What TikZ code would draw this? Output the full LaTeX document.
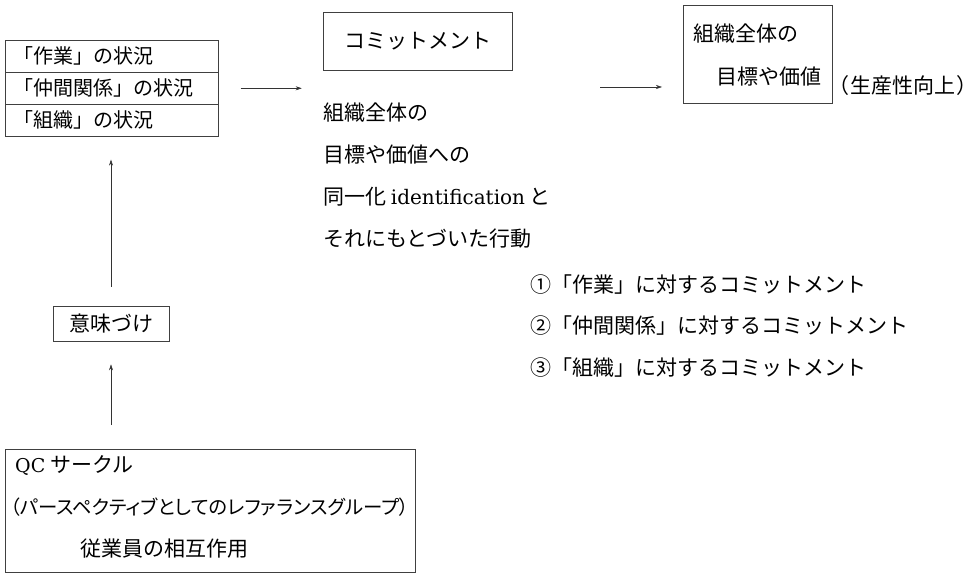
\documentclass[tikz,border=0pt]{standalone}
\usepackage{fontspec}
\setmainfont{DejaVu Serif}
\newfontfamily\cjk{Noto Sans CJK JP}
\newfontfamily\cjkp[RawFeature=+palt]{Noto Sans CJK JP}
\usetikzlibrary{arrows.meta}
\begin{document}
\begin{tikzpicture}[x=1pt,y=-1pt,
  box/.style={draw=black!75,line width=0.6pt},
  lbl/.style={inner sep=0pt,font=\cjk\fontsize{21}{25}\selectfont},
  small/.style={font=\cjk\fontsize{20}{24}\selectfont},
  row/.style={box,lbl,small,anchor=north west,minimum width=213pt,minimum height=32pt,
    text width=197pt,align=left,inner xsep=8pt},
  conn/.style={draw=black!80,line width=0.5pt,-{Stealth[length=6pt,width=4pt]}}]
\useasboundingbox (0,0) rectangle (980,577);
% left stacked box
\node[row] (s1) at (5,40) {「作業」の状況};
\node[row] (s2) at (5,72) {「仲間関係」の状況};
\node[row] (s3) at (5,104) {「組織」の状況};
% commitment box
\node[box,lbl,minimum width=189pt,minimum height=58pt] (cm) at (417.5,41) {コミットメント};
% text block
\node[lbl,anchor=west] (t1) at (323,113) {組織全体の};
\node[lbl,anchor=west] (t2) at (323,155) {目標や価値への};
\node[lbl,anchor=west] (t3) at (323,197) {同一化 {\rmfamily\fontsize{20}{24}\selectfont identification} と};
\node[lbl,anchor=west] (t4) at (323,239) {それにもとづいた行動};
% goal box
\node[box,anchor=north west,minimum width=149pt,minimum height=98pt,inner sep=0pt] (g) at (683,5) {};
\node[lbl,anchor=west] (g1) at (693,34) {組織全体の};
\node[lbl,anchor=east] (g2) at (822,77) {目標や価値};
\node[lbl,anchor=west] (p) at (838,86) {\cjkp（\hspace{2pt}生産性向上\hspace{2pt}）};
% items
\node[lbl,anchor=west] (i1) at (530,285) {①「作業」に対するコミットメント};
\node[lbl,anchor=west] (i2) at (530,326) {②「仲間関係」に対するコミットメント};
\node[lbl,anchor=west] (i3) at (530,368) {③「組織」に対するコミットメント};
% meaning box
\node[box,lbl,minimum width=116pt,minimum height=35pt] (m) at (111,323.5) {意味づけ};
% QC box
\node[box,anchor=north west,minimum width=410pt,minimum height=123pt,inner sep=0pt] (q) at (5,449) {};
\node[lbl,anchor=west] (q1) at (15,466) {{\rmfamily\fontsize{19}{24}\selectfont QC} サークル};
\node[lbl,anchor=west,font=\cjkp\fontsize{19.4}{24}\selectfont] (q2) at (10,507) {（パースペクティブとしてのレファランスグループ）};
\node[lbl,anchor=west] (q3) at (80,549) {従業員の相互作用};
% connectors
\coordinate (a2) at (600,87);
\draw[conn,shorten <=22pt,shorten >=21pt] (s2.east) -- (s2.east -| cm.west);
\draw[conn,shorten >=21pt] (a2) -- (a2 -| g.west);
\draw[conn,shorten <=19pt,shorten >=23pt] (m.north) -- (m.north |- s3.south);
\draw[conn,shorten <=24pt,shorten >=23pt] (m.south |- q.north) -- (m.south);
\end{tikzpicture}
\end{document}
